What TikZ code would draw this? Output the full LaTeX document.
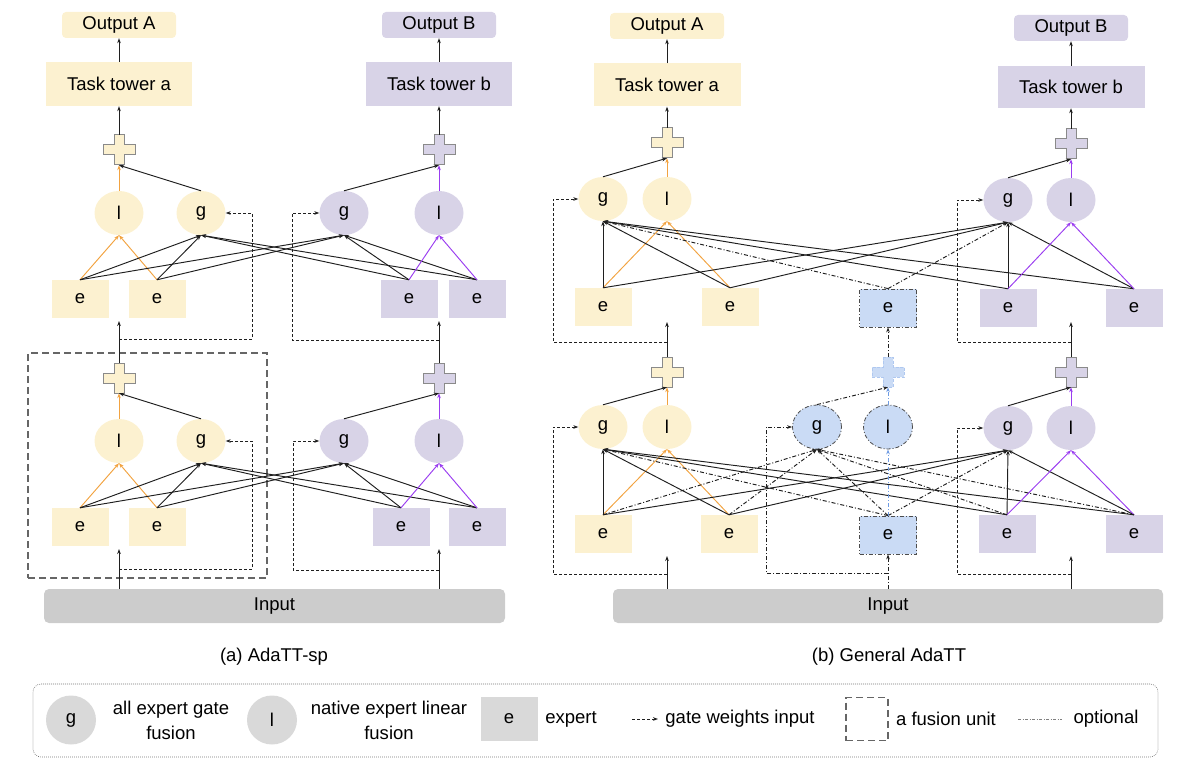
\documentclass[tikz,border=0pt]{standalone}
\usepackage{fontspec}
\setmainfont{Liberation Sans}
\usetikzlibrary{arrows.meta,shapes.geometric,calc}
\definecolor{yel}{HTML}{FCF1D0}
\definecolor{pur}{HTML}{D8D3E7}
\definecolor{blu}{HTML}{CADBF5}
\definecolor{inp}{HTML}{CCCCCC}
\definecolor{lgr}{HTML}{D9D9D9}
\definecolor{orL}{HTML}{F2A341}
\definecolor{puL}{HTML}{9A3DF0}
\definecolor{buL}{HTML}{6E9BE3}
\definecolor{crd}{HTML}{8A8A8A}
\newcommand{\mkcross}[4][]{\filldraw[fill=#3,draw=#4,line width=1pt,#1] (#2.center) ++(-5,-15) -- ++(10,0) -- ++(0,10) -- ++(11,0) -- ++(0,10) -- ++(-11,0) -- ++(0,10) -- ++(-10,0) -- ++(0,-10) -- ++(-11,0) -- ++(0,-10) -- ++(11,0) -- cycle;}
\begin{document}
\begin{tikzpicture}[x=1pt,y=-1pt,font=\fontsize{18.5}{22}\selectfont,
  outbox/.style={rounded corners=4pt,minimum width=114pt,minimum height=26pt,inner sep=0},
  tower/.style={minimum width=146pt,minimum height=44pt,inner sep=0},
  fus/.style={ellipse,minimum width=49pt,minimum height=44pt,inner sep=0},
  expbox/.style={minimum width=57pt,minimum height=38pt,inner sep=0},
  crossnode/.style={minimum width=32pt,minimum height=30pt,inner sep=0},
  optborder/.style={draw=black!70,line width=0.8pt,dash pattern=on 4pt off 2pt on 1pt off 2pt},
  arr/.style={-{Stealth[length=5pt,width=3.6pt]},line width=0.95pt,draw=black!88},
  orarr/.style={arr,draw=orL},
  puarr/.style={arr,draw=puL},
  gate/.style={arr,dash pattern=on 3pt off 2pt},
  opt/.style={arr,dash pattern=on 4pt off 2pt on 1pt off 2pt},
  buopt/.style={opt,draw=buL},
  fusionbox/.style={draw=black!60,line width=1.5pt,dash pattern=on 7pt off 4pt,inner sep=0},
  legtext/.style={font=\fontsize{18.5}{25}\selectfont,align=center}]
\useasboundingbox (0,0) rectangle (1177,762);

% ===================== (a) AdaTT-sp =====================
\node[fusionbox,minimum width=239pt,minimum height=225pt] (fu) at (147.5,465.5) {};
\node[outbox,fill=yel] (aOA) at (119,25) {Output A};
\node[tower,fill=yel] (aTA) at (119,84) {Task tower a};
\node[outbox,fill=pur] (aOB) at (439,25) {Output B};
\node[tower,fill=pur] (aTB) at (439,84) {Task tower b};
\node[crossnode] (aPA1) at (119,150) {};
\node[crossnode] (aPB1) at (439,150) {};
\node[crossnode] (aPA2) at (119,378) {};
\node[crossnode] (aPB2) at (439,378) {};
\node[fus,fill=yel] (aLA1) at (119,213) {l};
\node[fus,fill=yel] (aGA1) at (201,213) {g};
\node[fus,fill=pur] (aGB1) at (344,213) {g};
\node[fus,fill=pur] (aLB1) at (439,213) {l};
\node[fus,fill=yel] (aLA2) at (119,441) {l};
\node[fus,fill=yel] (aGA2) at (201,441) {g};
\node[fus,fill=pur] (aGB2) at (344,441) {g};
\node[fus,fill=pur] (aLB2) at (439,441) {l};
\node[expbox,fill=yel] (aE11) at (80,299) {e};
\node[expbox,fill=yel] (aE12) at (157,299) {e};
\node[expbox,fill=pur] (aE13) at (409,299) {e};
\node[expbox,fill=pur] (aE14) at (477,299) {e};
\node[expbox,fill=yel] (aE21) at (80,527) {e};
\node[expbox,fill=yel] (aE22) at (157,527) {e};
\node[expbox,fill=pur] (aE23) at (401,527) {e};
\node[expbox,fill=pur] (aE24) at (477,527) {e};
\node[fill=inp,rounded corners=5pt,minimum width=461pt,minimum height=34pt] (aIn) at (274.5,606) {Input};
\node (aCap) at (274,657) {(a) AdaTT-sp};
\mkcross{aPA1}{yel}{crd}
\mkcross{aPB1}{pur}{crd}
\mkcross{aPA2}{yel}{crd}
\mkcross{aPB2}{pur}{crd}

\foreach \bk in {1,2}{
  \draw[orarr] (aE\bk1.north) -- (aLA\bk.south);
  \draw[orarr] (aE\bk2.north) -- (aLA\bk.south);
  \foreach \ei in {1,2,3,4}{
    \draw[arr] (aE\bk\ei.north) -- (aGA\bk.south);
    \draw[arr] (aE\bk\ei.north) -- (aGB\bk.south);
  }
  \draw[puarr] (aE\bk3.north) -- (aLB\bk.south);
  \draw[puarr] (aE\bk4.north) -- (aLB\bk.south);
  \draw[orarr] (aLA\bk.north) -- (aPA\bk.south);
  \draw[arr] (aGA\bk.north) -- (aPA\bk.south);
  \draw[arr] (aGB\bk.north) -- (aPB\bk.south);
  \draw[puarr] (aLB\bk.north) -- (aPB\bk.south);
}
\draw[arr] (aPA1.north) -- (aTA.south);
\draw[arr] (aTA.north) -- (aOA.south);
\draw[arr] (aPB1.north) -- (aTB.south);
\draw[arr] (aTB.north) -- (aOB.south);

\coordinate (aUA1) at (119,321);
\coordinate (aKA1) at (119,339);
\coordinate (aUB1) at (439,321);
\coordinate (aKB1) at (439,340);
\coordinate (aUA2) at (119,549);
\coordinate (aKA2) at (119,569);
\coordinate (aUB2) at (439,549);
\coordinate (aKB2) at (439,570);
\draw[arr] (aPA2.north) -- (aUA1);
\draw[gate] (aKA1) -- (252,339) |- (aGA1.east);
\draw[arr] (aPB2.north) -- (aUB1);
\draw[gate] (aKB1) -- (292,340) |- (aGB1.west);
\draw[arr] (aIn.north -| aPA2) -- (aUA2);
\draw[gate] (aKA2) -- (252,569) |- (aGA2.east);
\draw[arr] (aIn.north -| aPB2) -- (aUB2);
\draw[gate] (aKB2) -- (293,570) |- (aGB2.west);

% ===================== (b) General AdaTT =====================
\node[outbox,fill=yel] (bOA) at (667,26) {Output A};
\node[tower,fill=yel,minimum width=147pt,minimum height=43pt] (bTA) at (667,85) {Task tower a};
\node[outbox,fill=pur] (bOB) at (1071,28) {Output B};
\node[tower,fill=pur,minimum width=147pt,minimum height=42pt] (bTB) at (1071,87) {Task tower b};
\node[crossnode] (bPA1) at (667,143) {};
\node[crossnode] (bPB1) at (1071,144) {};
\node[crossnode] (bPA2) at (667,372) {};
\node[crossnode] (bPS2) at (888,372) {};
\node[crossnode] (bPB2) at (1071,372) {};
\node[fus,fill=yel] (bGA1) at (603,199) {g};
\node[fus,fill=yel] (bLA1) at (667,199) {l};
\node[fus,fill=pur] (bGB1) at (1008,200) {g};
\node[fus,fill=pur] (bLB1) at (1071,200) {l};
\node[fus,fill=yel] (bGA2) at (603,427) {g};
\node[fus,fill=yel] (bLA2) at (667,427) {l};
\node[fus,fill=blu,optborder] (bGS2) at (817,427) {g};
\node[fus,fill=blu,optborder] (bLS2) at (888,427) {l};
\node[fus,fill=pur] (bGB2) at (1008,428) {g};
\node[fus,fill=pur] (bLB2) at (1071,428) {l};
\node[expbox,fill=yel] (bE11) at (603,307) {e};
\node[expbox,fill=yel] (bE12) at (730,307) {e};
\node[expbox,fill=blu,optborder] (bS1) at (888,308) {e};
\node[expbox,fill=pur] (bE13) at (1008,308) {e};
\node[expbox,fill=pur] (bE14) at (1134,308) {e};
\node[expbox,fill=yel] (bE21) at (603,534) {e};
\node[expbox,fill=yel] (bE22) at (729,534) {e};
\node[expbox,fill=blu,optborder] (bS2) at (888,535) {e};
\node[expbox,fill=pur] (bE23) at (1007,534) {e};
\node[expbox,fill=pur] (bE24) at (1134,534) {e};
\node[fill=inp,rounded corners=5pt,minimum width=550pt,minimum height=34pt] (bIn) at (888,606) {Input};
\node (bCap) at (889,657) {(b) General AdaTT};
\mkcross{bPA1}{yel}{crd}
\mkcross{bPB1}{pur}{crd}
\mkcross{bPA2}{yel}{crd}
\mkcross{bPB2}{pur}{crd}
\mkcross[dash pattern=on 3pt off 1.5pt]{bPS2}{blu}{buL!55}

\foreach \bk in {1,2}{
  \draw[orarr] (bE\bk1.north) -- (bLA\bk.south);
  \draw[orarr] (bE\bk2.north) -- (bLA\bk.south);
  \foreach \ei in {1,2,3,4}{
    \draw[arr] (bE\bk\ei.north) -- (bGA\bk.south);
    \draw[arr] (bE\bk\ei.north) -- (bGB\bk.south);
  }
  \draw[puarr] (bE\bk3.north) -- (bLB\bk.south);
  \draw[puarr] (bE\bk4.north) -- (bLB\bk.south);
  \draw[opt] (bS\bk.north) -- (bGA\bk.south);
  \draw[opt] (bS\bk.north) -- (bGB\bk.south);
  \draw[orarr] (bLA\bk.north) -- (bPA\bk.south);
  \draw[arr] (bGA\bk.north) -- (bPA\bk.south);
  \draw[arr] (bGB\bk.north) -- (bPB\bk.south);
  \draw[puarr] (bLB\bk.north) -- (bPB\bk.south);
}
\foreach \ei in {1,2,3,4}{
  \draw[opt] (bE2\ei.north) -- (bGS2.south);
}
\draw[opt] (bS2.north) -- (bGS2.south);
\draw[buopt] (bS2.north) -- (bLS2.south);
\draw[opt] (bGS2.north) -- (bPS2.south);
\draw[buopt] (bLS2.north) -- (bPS2.south);

\draw[arr] (bPA1.north) -- (bTA.south);
\draw[arr] (bTA.north) -- (bOA.south);
\draw[arr] (bPB1.north) -- (bTB.south);
\draw[arr] (bTB.north) -- (bOB.south);

\coordinate (bUA1) at (667,322);
\coordinate (bKA1) at (667,342);
\coordinate (bUB1) at (1071,322);
\coordinate (bKB1) at (1071,342);
\coordinate (bUA2) at (667,556);
\coordinate (bKA2) at (667,574);
\coordinate (bUB2) at (1071,556);
\coordinate (bKB2) at (1071,574);
\coordinate (bKS2) at (888,573);
\draw[arr] (bPA2.north) -- (bUA1);
\draw[gate] (bKA1) -- (553,342) |- (bGA1.west);
\draw[arr] (bPB2.north) -- (bUB1);
\draw[gate] (bKB1) -- (957,342) |- (bGB1.west);
\draw[opt] (bPS2.north) -- (bS1.south);
\draw[arr] (bIn.north -| bPA2) -- (bUA2);
\draw[gate] (bKA2) -- (553,574) |- (bGA2.west);
\draw[arr] (bIn.north -| bPB2) -- (bUB2);
\draw[gate] (bKB2) -- (957,574) |- (bGB2.west);
\draw[opt] (bIn.north -| bPS2) -- (bS2.south);
\draw[opt] (bKS2) -- (766,573) |- (bGS2.west);

% ===================== legend =====================
\node[draw=black!55,line width=0.6pt,dash pattern=on 0.8pt off 1.2pt,rounded corners=8pt,minimum width=1125pt,minimum height=73pt] (leg) at (595.5,720.5) {};
\node[fus,fill=lgr,minimum width=50pt,minimum height=49pt] (lgG) at (71,720) {g};
\node[legtext] (lgGt) at (171,720) {all expert gate\\fusion};
\node[fus,fill=lgr,minimum width=50pt,minimum height=49pt] (lgL) at (272,720) {l};
\node[legtext] (lgLt) at (389,720) {native expert linear\\fusion};
\node[expbox,fill=lgr,minimum height=44pt] (lgE) at (509,719) {e};
\node (lgEt) at (571,719) {expert};
\coordinate (lgA1) at (632,719);
\coordinate (lgA2) at (658,719);
\draw[gate] (lgA1) -- (lgA2);
\node (lgAt) at (740,719) {gate weights input};
\node[fusionbox,minimum width=42pt,minimum height=43pt] (lgF) at (867,719) {};
\node (lgFt) at (946,719) {a fusion unit};
\coordinate (lgO1) at (1018,719);
\coordinate (lgO2) at (1062,719);
\draw[line width=0.8pt,draw=black!50,dash pattern=on 3pt off 1.5pt on 1pt off 1.5pt] (lgO1) -- (lgO2);
\node (lgOt) at (1106,719) {optional};
\end{tikzpicture}
\end{document}
